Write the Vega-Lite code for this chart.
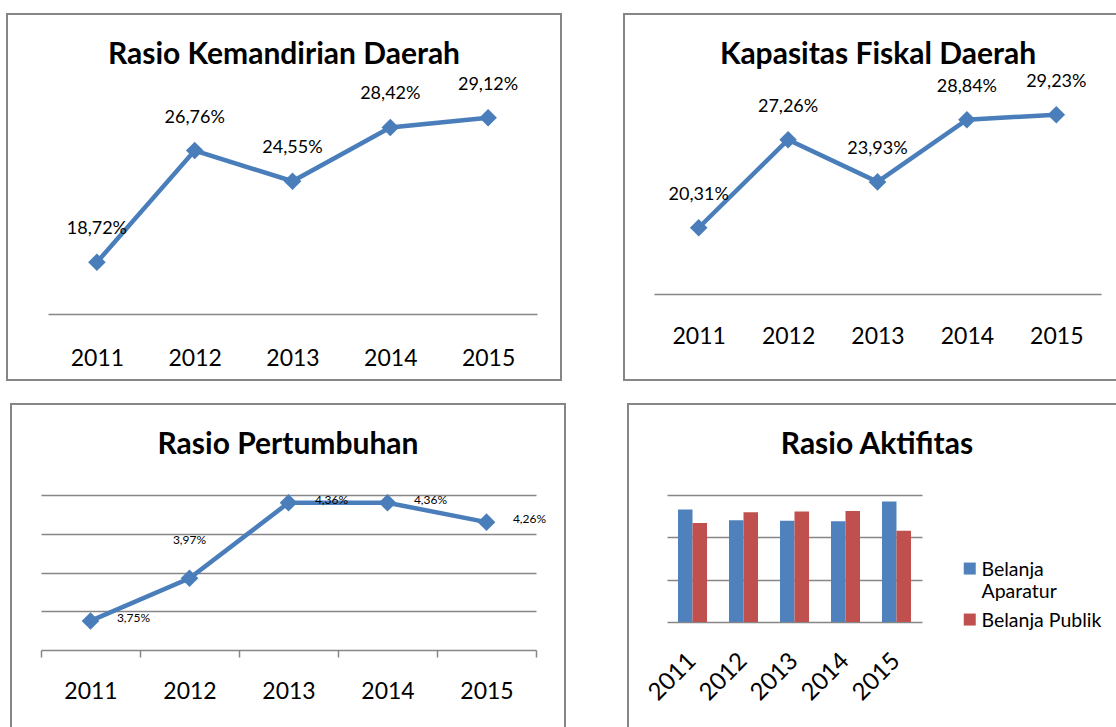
{
  "$schema": "https://vega.github.io/schema/vega-lite/v6.json",
  "usermeta": {"embedOptions": {"actions": false}},
  "padding": {"left": 6, "top": 13, "right": 0, "bottom": 0},
  "background": "white",
  "config": {
    "font": "Lato",
    "view": {"stroke": "#868686", "strokeWidth": 2},
    "title": {"font": "Lato", "fontSize": 30, "fontWeight": "bold", "color": "#000000", "anchor": "middle", "frame": "group", "offset": -56},
    "axis": {"labelFont": "Lato", "labelColor": "#000000", "domainColor": "#868686", "domainWidth": 1.5, "gridColor": "#868686", "gridWidth": 1.5, "tickColor": "#868686", "tickWidth": 1.5, "title": null, "labelOverlap": false},
    "text": {"font": "Lato", "color": "#000000"}
  },
  "datasets": {
    "kemandirian": [
      {"tahun": "2011", "nilai": 18.72},
      {"tahun": "2012", "nilai": 26.76},
      {"tahun": "2013", "nilai": 24.55},
      {"tahun": "2014", "nilai": 28.42},
      {"tahun": "2015", "nilai": 29.12}
    ],
    "kapasitas": [
      {"tahun": "2011", "nilai": 20.31},
      {"tahun": "2012", "nilai": 27.26},
      {"tahun": "2013", "nilai": 23.93},
      {"tahun": "2014", "nilai": 28.84},
      {"tahun": "2015", "nilai": 29.23}
    ],
    "pertumbuhan": [
      {"tahun": "2011", "nilai": 3.75},
      {"tahun": "2012", "nilai": 3.97},
      {"tahun": "2013", "nilai": 4.36},
      {"tahun": "2014", "nilai": 4.36},
      {"tahun": "2015", "nilai": 4.26}
    ],
    "aktifitas": [
      {"tahun": "2011", "seri": "Belanja Aparatur", "nilai": 53.2},
      {"tahun": "2011", "seri": "Belanja Publik", "nilai": 46.8},
      {"tahun": "2012", "seri": "Belanja Aparatur", "nilai": 48.1},
      {"tahun": "2012", "seri": "Belanja Publik", "nilai": 51.9},
      {"tahun": "2013", "seri": "Belanja Aparatur", "nilai": 47.8},
      {"tahun": "2013", "seri": "Belanja Publik", "nilai": 52.2},
      {"tahun": "2014", "seri": "Belanja Aparatur", "nilai": 47.6},
      {"tahun": "2014", "seri": "Belanja Publik", "nilai": 52.4},
      {"tahun": "2015", "seri": "Belanja Aparatur", "nilai": 56.9},
      {"tahun": "2015", "seri": "Belanja Publik", "nilai": 43.1}
    ]
  },
  "spacing": 22,
  "center": true,
  "vconcat": [
    {
      "spacing": 61,
      "hconcat": [
        {
          "width": 554,
          "height": 366,
          "title": {"text": "Rasio Kemandirian Daerah"},
          "data": {"name": "kemandirian"},
          "transform": [{"calculate": "replace(format(datum.nilai, '.2f'), '.', ',') + '%'", "as": "label"}],
          "encoding": {
            "x": {"field": "tahun", "type": "ordinal", "scale": {"range": [41, 530], "paddingInner": 0, "paddingOuter": 0},
                  "axis": {"orient": "bottom", "offset": -66, "ticks": false, "tickSize": 0, "labelPadding": 44, "labelBaseline": "middle", "labelAngle": 0, "labelFontSize": 23}},
            "y": {"field": "nilai", "type": "quantitative", "scale": {"domain": [15, 30], "range": [300, 91.5], "zero": false, "nice": false}, "axis": null}
          },
          "layer": [
            {"mark": {"type": "line", "color": "#4A7EBB", "strokeWidth": 4.5}},
            {"mark": {"type": "point", "shape": "diamond", "filled": true, "opacity": 1, "size": 310, "color": "#4A7EBB"}},
            {"mark": {"type": "text", "dy": -33, "fontSize": 18, "baseline": "middle"}, "encoding": {"text": {"field": "label"}}}
          ]
        },
        {
          "width": 498,
          "height": 366,
          "title": {"text": "Kapasitas Fiskal Daerah", "dx": 5},
          "data": {"name": "kapasitas"},
          "transform": [{"calculate": "replace(format(datum.nilai, '.2f'), '.', ',') + '%'", "as": "label"}],
          "encoding": {
            "x": {"field": "tahun", "type": "ordinal", "scale": {"range": [30, 477], "paddingInner": 0, "paddingOuter": 0},
                  "axis": {"orient": "bottom", "offset": -86, "ticks": false, "tickSize": 0, "labelPadding": 42, "labelBaseline": "middle", "labelAngle": 0, "labelFontSize": 23}},
            "y": {"field": "nilai", "type": "quantitative", "scale": {"domain": [15, 30], "range": [281, 91], "zero": false, "nice": false}, "axis": null}
          },
          "layer": [
            {"mark": {"type": "line", "color": "#4A7EBB", "strokeWidth": 4.5}},
            {"mark": {"type": "point", "shape": "diamond", "filled": true, "opacity": 1, "size": 310, "color": "#4A7EBB"}},
            {"mark": {"type": "text", "dy": -33, "fontSize": 18, "baseline": "middle"}, "encoding": {"text": {"field": "label"}}}
          ]
        }
      ]
    },
    {
      "spacing": 61,
      "hconcat": [
        {
          "width": 554,
          "height": 327,
          "title": {"text": "Rasio Pertumbuhan"},
          "data": {"name": "pertumbuhan"},
          "transform": [{"calculate": "replace(format(datum.nilai, '.2f'), '.', ',') + '%'", "as": "label"}],
          "encoding": {
            "x": {"field": "tahun", "type": "ordinal", "scale": {"range": [30, 525], "paddingInner": 0, "paddingOuter": 0},
                  "axis": {"orient": "bottom", "offset": -81, "ticks": true, "tickSize": 7, "tickBand": "extent", "labelPadding": 34, "labelBaseline": "middle", "labelAngle": 0, "labelFontSize": 23}},
            "y": {"field": "nilai", "type": "quantitative", "scale": {"domain": [3.6, 4.4], "range": [246, 91], "zero": false, "nice": false},
                  "axis": {"orient": "left", "grid": true, "values": [3.8, 4.0, 4.2, 4.4], "domain": false, "labels": false, "ticks": false}}
          },
          "layer": [
            {"mark": {"type": "line", "color": "#4A7EBB", "strokeWidth": 4.5}},
            {"mark": {"type": "point", "shape": "diamond", "filled": true, "opacity": 1, "size": 310, "color": "#4A7EBB"}},
            {"transform": [{"filter": "datum.tahun != '2012'"}],
             "mark": {"type": "text", "dx": 43, "dy": -3, "fontSize": 12, "baseline": "middle"}, "encoding": {"text": {"field": "label"}}},
            {"transform": [{"filter": "datum.tahun == '2012'"}],
             "mark": {"type": "text", "dy": -38, "fontSize": 12, "baseline": "middle"}, "encoding": {"text": {"field": "label"}}}
          ]
        },
        {
          "width": 490,
          "height": 327,
          "title": {"text": "Rasio Aktifitas", "dx": 4},
          "data": {"name": "aktifitas"},
          "mark": {"type": "bar"},
          "encoding": {
            "x": {"field": "tahun", "type": "ordinal", "scale": {"range": [39, 294], "paddingInner": 0.431, "paddingOuter": 0.2157},
                  "axis": {"orient": "bottom", "offset": -109, "ticks": false, "tickSize": 0, "labelPadding": 35, "labelAngle": -45, "labelAlign": "right", "labelBaseline": "middle", "labelFontSize": 24}},
            "xOffset": {"field": "seri", "type": "nominal", "sort": ["Belanja Aparatur", "Belanja Publik"]},
            "y": {"field": "nilai", "type": "quantitative", "scale": {"domain": [0, 60], "range": [218, 91], "nice": false},
                  "axis": {"orient": "left", "grid": true, "values": [20, 40, 60], "domain": false, "labels": false, "ticks": false}},
            "color": {"field": "seri", "type": "nominal", "sort": ["Belanja Aparatur", "Belanja Publik"],
                      "scale": {"domain": ["Belanja Aparatur", "Belanja Publik"], "range": ["#4F81BD", "#C0504D"]},
                      "legend": {"orient": "none", "legendX": 953, "legendY": 537, "title": null, "symbolType": "M-1,0.3H1V2.3H-1Z", "symbolSize": 144, "symbolStrokeWidth": 0, "labelFontSize": 19.5, "labelFont": "Lato", "labelColor": "#000000", "labelBaseline": "top", "labelOffset": 2, "rowPadding": 0,
                                 "labelExpr": "datum.label == 'Belanja Aparatur' ? ['Belanja', 'Aparatur'] : datum.label",
                                 "encode": {"labels": {"update": {"lineHeight": {"value": 22}}}}}}
          }
        }
      ]
    }
  ]
}
